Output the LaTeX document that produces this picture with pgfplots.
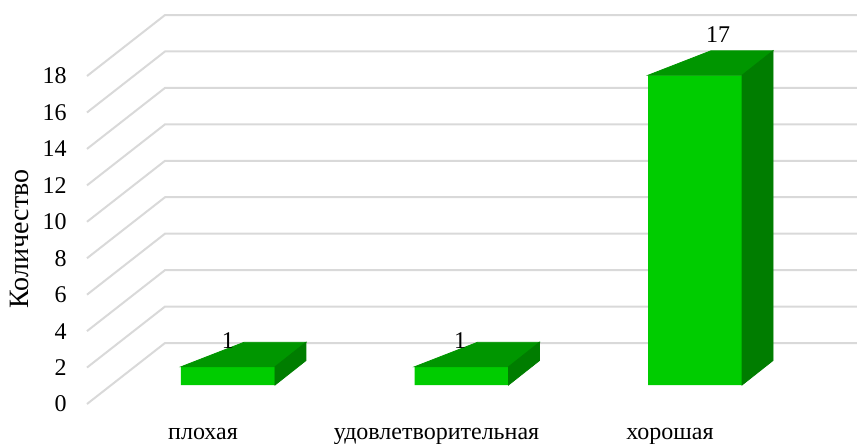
\documentclass[border=0pt]{standalone}
\usepackage{fontspec}
\setmainfont{Liberation Serif}
\usepackage{pgfplots}
\pgfplotsset{compat=1.18}
\usepackage{pgfplotstable}

\definecolor{barfront}{RGB}{0,204,0}
\definecolor{bartop}{RGB}{0,150,0}
\definecolor{barside}{RGB}{0,125,0}
\definecolor{gridc}{RGB}{217,217,217}

\pgfdeclareplotmark{blank}{}

% bars: category position, value, label offsets
\pgfplotstableread{
x v lx ly
0 1 0 1.415
1 1 -0.006 1.415
2 17 0.0985 2.21
}\bars

% one gridline: side wall front edge -> back corner -> right end
\pgfplotstableread{
gx gy
-0.6039 -1.0428
-0.2698 2.3052
2.6938 2.3052
}\wall

\begin{document}
\fontsize{12}{14}\selectfont
\begin{tikzpicture}
\begin{axis}[
  x=116.75pt, y=9.11pt,
  xmin=-0.9764, xmax=2.6938, ymin=-3.183, ymax=21.131,
  clip=false,
  axis line style={draw=none},
  major tick length=0pt,
  xtick={0,1,2},
  xticklabels={плохая, удовлетворительная, хорошая},
  ytick={0,2,...,18},
  /pgf/number format/assume math mode=true,
  xticklabel style={anchor=base, yshift=2pt, xshift=-12.5pt, inner sep=0pt},
  yticklabel style={anchor=east, xshift=33.5pt, yshift=-9.5pt, inner sep=0pt},
  ylabel={Количество},
  every axis y label/.style={at={(rel axis cs:0.0228,0.4605)}, rotate=90, anchor=center, inner sep=0pt, font=\fontsize{14}{16}\selectfont},
]
\coordinate (imgsw) at (rel axis cs:0,0);
\coordinate (imgne) at (rel axis cs:1,1);

\pgfplotsinvokeforeach{0,2,...,18}{
  \addplot[gridc, line width=1pt] table[x=gx, y expr=\thisrow{gy}+#1]{\wall};
}

% front faces
\addplot[ybar, bar width=47pt, fill=barfront, draw=none] table[x=x, y=v]{\bars};

% top and side faces
\addplot[scatter, only marks, mark=blank,
  visualization depends on={\thisrow{v} \as \barval},
  scatter/@pre marker code/.code={%
    \pgfmathsetlengthmacro\h{\barval*9.11pt}%
    \fill[bartop] (-23.5pt,0pt) -- (23.5pt,0pt) -- (39pt,12.25pt) -- (8pt,12.25pt) -- cycle;
    \fill[barside] (23.5pt,0pt) -- (39pt,12.25pt) -- (39pt,12.25pt-\h) -- (23.5pt,-\h) -- cycle;
  },
  scatter/@post marker code/.code={}]
  table[x=x, y=v]{\bars};

% value labels
\addplot[only marks, mark=blank, point meta=explicit, nodes near coords,
  nodes near coords style={anchor=center, inner sep=0pt}]
  table[x expr=\thisrow{x}+\thisrow{lx}, y expr=\thisrow{v}+\thisrow{ly}, meta=v]{\bars};
\end{axis}
\pgfresetboundingbox
\path (imgsw) rectangle (imgne);
\end{tikzpicture}
\end{document}
